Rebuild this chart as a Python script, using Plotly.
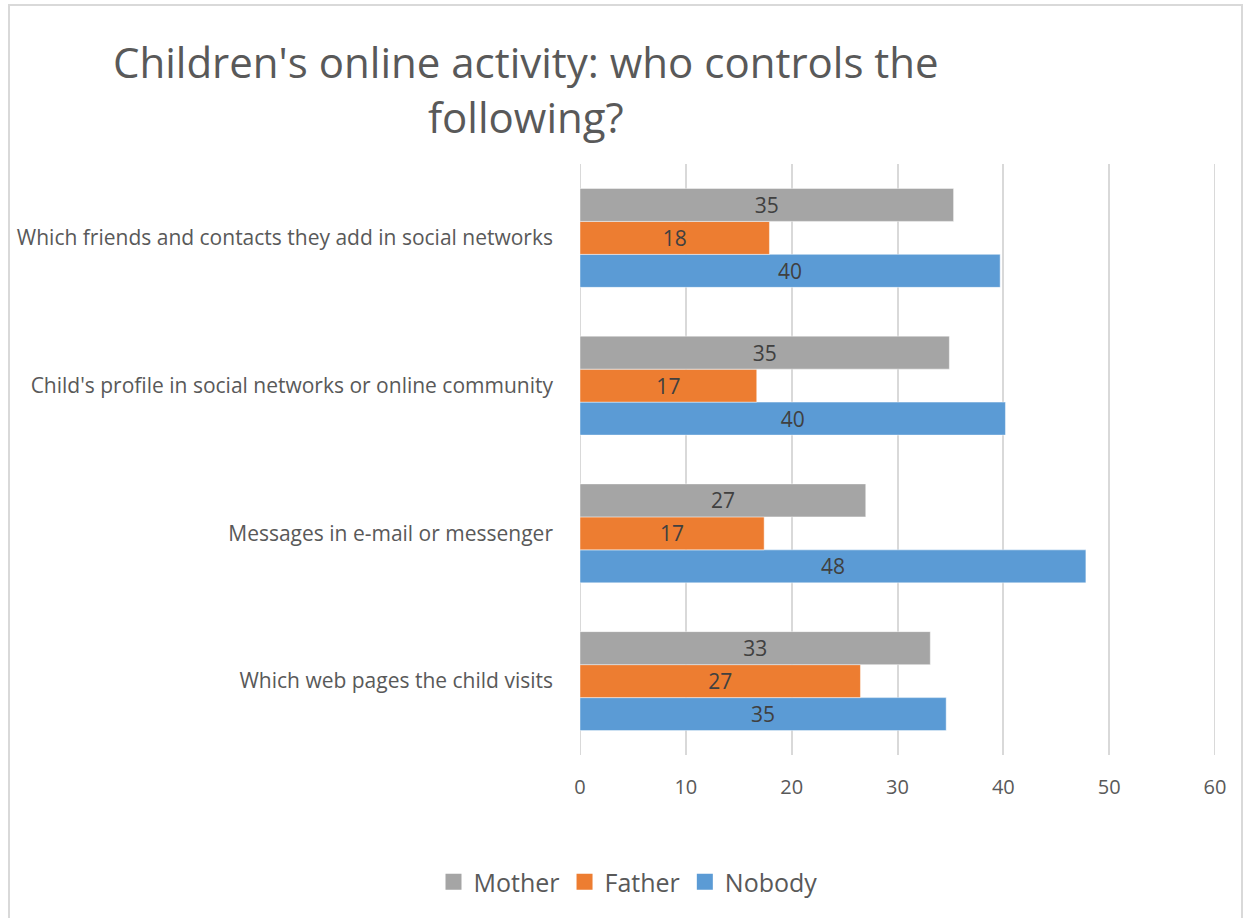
import plotly.graph_objects as go

# Survey questions, listed top to bottom as shown on the chart
categories = [
    "Which friends and contacts they add in social networks",
    "Child's profile in social networks or online community",
    "Messages in e-mail or messenger",
    "Which web pages the child visits",
]

# Share of answers (%) per question
mother = [35.3, 34.9, 27.0, 33.1]
father = [17.9, 16.7, 17.4, 26.5]
nobody = [39.7, 40.2, 47.8, 34.6]

x_ticks = [0, 10, 20, 30, 40, 50, 60]

series = [
    ("Nobody", nobody, "#5b9bd5"),
    ("Father", father, "#ed7d31"),
    ("Mother", mother, "#a5a5a5"),
]

FONT = "Open Sans"
TEXT_GRAY = "#595959"
GRID = "#d9d9d9"

# Plot-area geometry in pixels, used to place paper-referenced items
PLOT_L, PLOT_R, PLOT_T, PLOT_B = 580, 1215, 164, 755
PW, PH = PLOT_R - PLOT_L, PLOT_B - PLOT_T


def px(x):
    return (x - PLOT_L) / PW


def py(y):
    return (PLOT_B - y) / PH


fig = go.Figure()
for name, vals, color in series:
    fig.add_trace(go.Bar(
        name=name,
        y=categories,
        x=vals,
        orientation="h",
        showlegend=False,
        marker=dict(color=color, line=dict(color="rgba(255,255,255,0.45)", width=1)),
        texttemplate="%{x:.0f}",
        textposition="inside",
        insidetextanchor="middle",
        textangle=0,
        constraintext="none",
        textfont=dict(family=FONT, size=21, color="#404040"),
    ))

# Square legend swatches
for name, vals, color in series:
    fig.add_trace(go.Scatter(
        name=name,
        x=[None], y=[None],
        mode="markers",
        marker=dict(symbol="square", size=16, color=color),
        showlegend=True,
    ))

# Gridlines at both ends of the value axis (plotly skips those at the edges)
edge_grid = [
    dict(
        type="line",
        xref="x", yref="paper",
        x0=v, x1=v, y0=0, y1=1,
        line=dict(color=GRID, width=2),
        layer="below",
    )
    for v in (x_ticks[0], x_ticks[-1])
]

frame = dict(
    type="rect",
    xref="paper", yref="paper",
    x0=px(9), x1=px(1242),
    y0=py(930), y1=py(5),
    line=dict(color=GRID, width=2),
    fillcolor="rgba(0,0,0,0)",
    layer="below",
)

fig.update_layout(
    width=1243,
    height=918,
    paper_bgcolor="white",
    plot_bgcolor="white",
    barmode="group",
    bargap=0.33,
    bargroupgap=0,
    margin=dict(l=PLOT_L, r=1243 - PLOT_R, t=PLOT_T, b=918 - PLOT_B),
    font=dict(family=FONT, color=TEXT_GRAY),
    legend=dict(
        orientation="h",
        traceorder="reversed",
        x=px(628),
        xanchor="center",
        y=py(882),
        yanchor="middle",
        font=dict(family=FONT, size=25, color=TEXT_GRAY),
        itemsizing="trace",
    ),
    xaxis=dict(
        range=[x_ticks[0], x_ticks[-1]],
        tickvals=x_ticks,
        showgrid=True,
        gridcolor=GRID,
        gridwidth=2,
        zeroline=False,
        showline=False,
        ticks="",
        ticklabelstandoff=18,
        tickfont=dict(family=FONT, size=20, color=TEXT_GRAY),
        fixedrange=True,
    ),
    yaxis=dict(
        categoryorder="array",
        categoryarray=categories[::-1],
        showgrid=False,
        zeroline=False,
        showline=False,
        ticks="",
        ticklabelstandoff=26,
        tickfont=dict(family=FONT, size=21, color=TEXT_GRAY),
        fixedrange=True,
    ),
    annotations=[
        dict(
            text="Children's online activity: who controls the<br>following?",
            xref="paper", yref="paper",
            x=px(526), y=py(89),
            xanchor="center", yanchor="middle",
            showarrow=False,
            align="center",
            font=dict(family=FONT, size=42, color=TEXT_GRAY),
        )
    ],
    shapes=edge_grid + [frame],
)

fig.write_html("out.html")
